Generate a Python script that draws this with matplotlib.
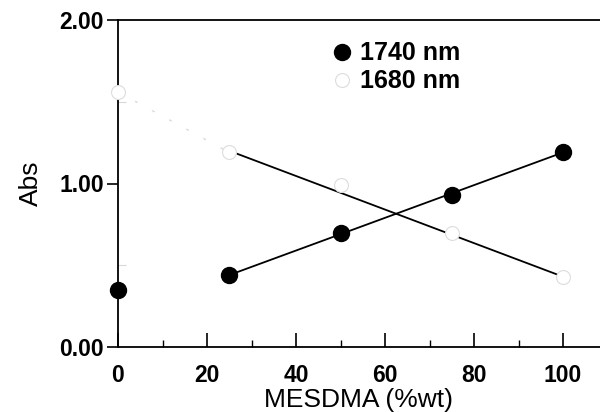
import matplotlib
matplotlib.use("Agg")
import matplotlib.pyplot as plt
from matplotlib.lines import Line2D
import numpy as np

plt.rcParams['font.family'] = ['Liberation Sans', 'DejaVu Sans']

x = [0, 25, 50, 75, 100]
abs_1740 = [0.35, 0.44, 0.70, 0.93, 1.19]
abs_1680 = [1.56, 1.19, 0.99, 0.70, 0.43]
fit_x = [25, 100]
fit_1740 = [0.44, 1.19]
fit_1680 = [1.20, 0.43]
xticks = [0, 20, 40, 60, 80, 100]
yticks = [0.0, 1.0, 2.0]
ytick_labels = ['0.00', '1.00', '2.00']

fig = plt.figure(figsize=(6, 4.12), dpi=100)
ax = fig.add_axes([118/600, 65/412, (600-118)/600, (347-20)/412])

# fit lines
ax.plot(fit_x, fit_1740, color='black', lw=1.3)
ax.plot(fit_x, fit_1680, color='black', lw=1.3)
# faint dotted segment of 1680 from 0 to 25
ax.plot(x[:2], abs_1680[:2], color='#dadada', lw=1.0, ls=(0, (2, 12)))

ax.plot(x, abs_1740, 'o', color='black', ms=11.5, clip_on=False, zorder=5)
ax.plot(x, abs_1680, 'o', mfc='white', mec='#dcdcdc', mew=0.8, ms=10,
        ls='none', clip_on=False, zorder=4)

ax.set_xlim(0, (600-118)/4.45)
ax.set_ylim(0, 2.0)

ax.spines['right'].set_visible(False)
for s in ['left', 'bottom', 'top']:
    ax.spines[s].set_linewidth(1.3)

ax.set_xticks(xticks)
ax.set_xticklabels([str(v) for v in xticks], fontsize=16.5, fontweight='bold')
ax.set_xticks([10, 30, 50, 70, 90], minor=True)
ax.tick_params(axis='x', which='major', direction='in', length=10, width=1.2, pad=12)
ax.tick_params(axis='x', which='minor', direction='in', length=5, width=1.0)

ax.set_yticks(yticks)
ax.set_yticklabels(ytick_labels, fontsize=16.5, fontweight='bold')
ax.set_yticks([0.5, 1.5], minor=True)
ax.tick_params(axis='y', which='major', direction='out', length=8, width=1.2, pad=2)
ax.tick_params(axis='y', which='minor', direction='in', length=6, width=0.8, color='#d8d8d8')

ax.set_xlabel('MESDMA (%wt)', fontsize=19, labelpad=1)
ax.set_ylabel('Abs', fontsize=19, labelpad=12)

handles = [
    Line2D([], [], marker='o', color='black', ls='none', ms=11.5),
    Line2D([], [], marker='o', mfc='white', mec='#dcdcdc', mew=0.8, ls='none', ms=10),
]
leg = ax.legend(handles, ['1740 nm', '1680 nm'], loc='upper left',
                bbox_to_anchor=((322-118)/482, 1 - 9/327), frameon=False,
                prop={'size': 18, 'weight': 'bold'}, handlelength=0.6,
                handletextpad=0.4, labelspacing=0.15, borderpad=0)

fig.savefig('out.png', dpi=100)
